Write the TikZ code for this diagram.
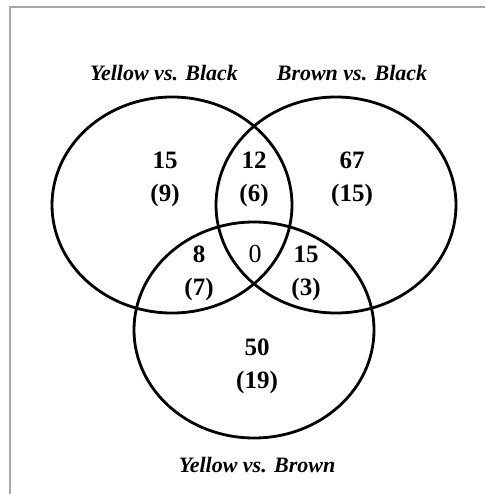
\documentclass[tikz,border=0pt]{standalone}
\usepackage{fontspec}
\setmainfont{Liberation Serif}
\begin{document}
\begin{tikzpicture}[x=1pt,y=-1pt,
  setline/.style={line width=2.8pt,black},
  framebox/.style={line width=1.2pt,color=black!35},
  setlabel/.style={font=\fontsize{22}{24}\selectfont\bfseries\itshape,inner sep=0pt},
  count/.style={font=\fontsize{25}{33}\selectfont\bfseries,align=center,inner sep=0pt},
  zero/.style={font=\fontsize{26}{33}\selectfont,inner sep=0pt}]
\useasboundingbox (0,0) rectangle (485,494);
\fill[white] (0,0) rectangle (485,494);
\draw[framebox] (10,494) -- (10,7) -- (485,7);
\draw[setline] (172,205) ellipse [x radius=120pt, y radius=108pt];
\draw[setline] (336,205) ellipse [x radius=120pt, y radius=108pt];
\draw[setline] (254,330) ellipse [x radius=120pt, y radius=108pt];
\node[setlabel] (yb) at (164,73) {Yellow vs. Black};
\node[setlabel] (bb) at (352,73) {Brown vs. Black};
\node[setlabel] (ybr) at (257,465) {Yellow vs. Brown};
\node[count] (a) at (165,179) {15\\(9)};
\node[count] (ab) at (254,179) {12\\(6)};
\node[count] (b) at (352,179) {67\\(15)};
\node[count] (ac) at (199,273) {8\\(7)};
\node[zero] (abc) at (255,254) {0};
\node[count] (bc) at (306,273) {15\\(3)};
\node[count] (c) at (257,366) {50\\(19)};
\end{tikzpicture}
\end{document}
